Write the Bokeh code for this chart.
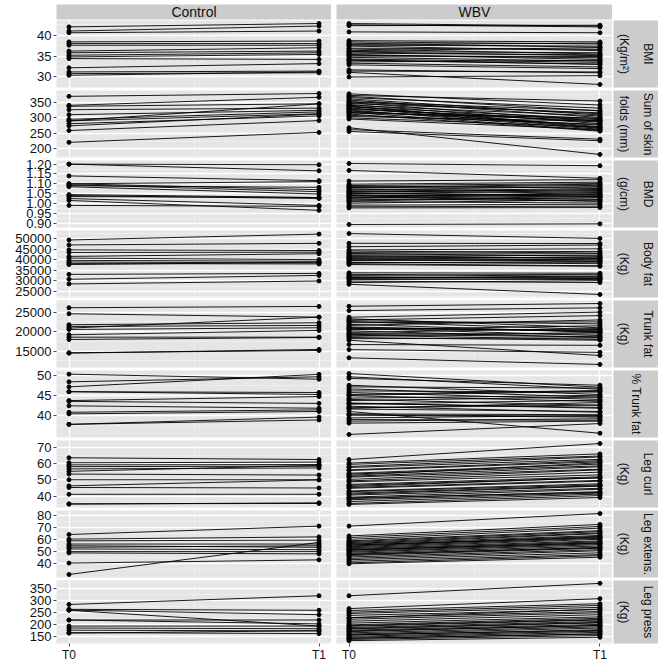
import math
from bokeh.plotting import figure
from bokeh.layouts import column, row
from bokeh.models import (ColumnDataSource, FixedTicker, NumeralTickFormatter,
                          Range1d, Label, Spacer)
from bokeh.embed import file_html
from bokeh.resources import INLINE

TIMES = ["T0", "T1"]
GROUPS = ["Control", "WBV"]

# ---------------- BMI (Kg/m2)
bmi_ctrl_t0 = [42.0, 41.0, 40.6, 38.4, 38.0, 37.6, 36.2, 35.8, 35.2, 34.8, 34.4, 32.2, 31.2, 30.8, 30.4]
bmi_ctrl_t1 = [42.8, 42.2, 41.0, 38.6, 38.0, 37.6, 37.0, 36.2, 35.8, 35.4, 34.2, 33.2, 31.4, 31.0, 31.2]
bmi_wbv_t0 = [42.8, 42.5, 42.3, 40.8, 38.7, 38.4, 38.1, 37.8, 37.4, 36.9, 36.7, 36.3, 36.0, 35.7, 35.4,
              35.0, 34.7, 34.3, 34.0, 33.6, 33.3, 32.9, 31.7, 31.4, 31.1, 30.0, 37.6, 36.1, 35.2, 34.1]
bmi_wbv_t1 = [42.2, 42.0, 42.4, 40.6, 38.4, 37.9, 37.1, 38.1, 36.3, 36.6, 35.5, 37.0, 35.1, 35.3, 34.2,
              34.9, 33.8, 33.5, 33.1, 34.0, 32.4, 32.0, 31.0, 31.2, 28.2, 30.3, 37.4, 35.8, 34.6, 33.0]
bmi_ticks = [30, 35, 40]

# ---------------- Sum of skin folds (mm)
skin_ctrl_t0 = [369, 340, 337, 326, 310, 295, 290, 290, 281, 274, 259, 221]
skin_ctrl_t1 = [378, 366, 345, 331, 324, 319, 313, 345, 306, 312, 291, 253]
skin_wbv_t0 = [377, 372, 369, 365, 361, 357, 352, 349, 346, 343, 340, 338, 335, 332, 330, 327,
               325, 322, 318, 315, 312, 308, 304, 300, 296, 268, 262, 256, 351, 337, 319]
skin_wbv_t1 = [341, 354, 322, 331, 309, 301, 323, 289, 316, 281, 306, 271, 297, 266, 286, 294,
               263, 276, 259, 299, 257, 279, 289, 270, 262, 182, 231, 226, 313, 268, 291]
skin_ticks = [200, 250, 300, 350]

# ---------------- BMD (g/cm)
bmd_ctrl_t0 = [1.20, 1.20, 1.14, 1.10, 1.10, 1.095, 1.09, 1.085, 1.045, 1.04, 1.035, 1.025, 1.015, 0.99]
bmd_ctrl_t1 = [1.197, 1.166, 1.116, 1.111, 1.07, 1.06, 1.082, 1.048, 1.03, 1.025, 1.03, 0.99, 0.965, 0.985]
bmd_wbv_t0 = [1.203, 1.168, 1.114, 1.098, 1.091, 1.086, 1.079, 1.074, 1.069, 1.064, 1.058, 1.054,
              1.049, 1.044, 1.039, 1.033, 1.028, 1.024, 1.018, 1.009, 1.001, 0.991, 0.983, 0.977,
              0.893, 1.081, 1.052, 1.031, 1.061, 1.041, 1.013]
bmd_wbv_t1 = [1.192, 1.128, 1.121, 1.108, 1.101, 1.079, 1.092, 1.061, 1.086, 1.052, 1.071, 1.041,
              1.066, 1.032, 1.048, 1.021, 1.046, 1.012, 1.036, 1.002, 1.019, 0.996, 0.986, 0.979,
              0.896, 1.098, 1.036, 1.056, 1.076, 1.011, 1.029]
bmd_ticks = [0.90, 0.95, 1.00, 1.05, 1.10, 1.15, 1.20]

# ---------------- Body fat (Kg)
bfat_ctrl_t0 = [49260, 46940, 44630, 43380, 41530, 40740, 39670, 38890, 38150, 37680, 33050, 30740, 28560]
bfat_ctrl_t1 = [52040, 47690, 44300, 43520, 42780, 40000, 39210, 38430, 37960, 38800, 33520, 32590, 29950]
bfat_wbv_t0 = [52300, 47700, 46100, 44600, 44100, 43400, 42900, 42600, 41900, 41600, 40900, 40600,
               39900, 39600, 38800, 38600, 38100, 37700, 33800, 33100, 32600, 31900, 31400, 31100,
               30600, 29900, 29200, 28400, 41300, 40200, 31700]
bfat_wbv_t1 = [50000, 47600, 46900, 45100, 43100, 43900, 41600, 42800, 40600, 42100, 39900, 41200,
               39100, 40300, 38100, 38800, 37100, 36900, 33600, 32100, 33100, 31100, 32300, 30600,
               31000, 29200, 30100, 23600, 40700, 39400, 31500]
bfat_ticks = [25000, 30000, 35000, 40000, 45000, 50000]

# ---------------- Trunk fat (Kg)
tfat_ctrl_t0 = [26130, 24590, 21770, 21330, 20900, 20560, 19200, 18590, 18000, 14490, 14600]
tfat_ctrl_t1 = [26460, 23720, 22280, 21590, 23720, 21000, 20310, 18590, 18500, 15440, 15180]
tfat_wbv_t0 = [26500, 25400, 23700, 23300, 23000, 22600, 22300, 21900, 21600, 21200, 20900, 20500,
               20200, 19800, 19500, 19100, 18800, 18500, 18200, 16700, 15400, 13300, 22800, 21000,
               19300, 20700, 17800]
tfat_wbv_t1 = [27200, 26100, 25000, 21000, 24100, 20500, 22500, 19800, 23000, 20000, 19000, 21500,
               18500, 20800, 19400, 18000, 19800, 17800, 18400, 16500, 14700, 11600, 22000, 20200,
               18700, 20400, 13900]
tfat_ticks = [15000, 20000, 25000]

# ---------------- % Trunk fat
ptf_ctrl_t0 = [50.25, 48.35, 47.1, 45.9, 45.9, 43.7, 43.5, 42.4, 40.8, 40.4, 37.8, 37.8]
ptf_ctrl_t1 = [49.0, 49.6, 50.2, 45.7, 45.2, 44.7, 43.0, 41.8, 41.4, 41.0, 39.6, 38.9]
ptf_wbv_t0 = [50.4, 49.6, 49.2, 47.5, 47.1, 46.6, 46.1, 45.7, 45.2, 44.9, 44.3, 44.0, 43.7, 43.1, 42.8,
              42.3, 41.9, 41.6, 41.0, 40.4, 40.1, 39.4, 39.0, 38.6, 38.1, 35.3, 45.0, 43.0, 41.8, 40.2]
ptf_wbv_t1 = [47.0, 46.5, 47.5, 45.2, 46.8, 44.5, 45.8, 44.0, 46.2, 43.5, 45.0, 42.5, 44.6, 41.8, 43.8,
              40.8, 42.6, 41.0, 35.6, 40.2, 39.6, 40.0, 38.8, 39.2, 38.6, 38.0, 46.0, 42.0, 43.2, 39.8]
ptf_ticks = [40, 45, 50]

# ---------------- Leg curl (Kg)
curl_ctrl_t0 = [63.7, 60.6, 59.3, 58.2, 56.8, 55.3, 53.6, 50.1, 46.3, 45.3, 41.1, 35.0, 35.2]
curl_ctrl_t1 = [62.6, 61.0, 59.5, 58.5, 57.4, 59.0, 53.0, 50.1, 50.0, 45.0, 41.1, 35.8, 35.4]
curl_wbv_t0 = [62.6, 60.4, 59.6, 58.3, 57.7, 56.2, 55.8, 54.1, 53.6, 52.2, 51.7, 50.3, 49.4, 48.8, 47.2,
               46.6, 45.3, 44.8, 43.1, 42.7, 41.2, 40.6, 39.3, 38.4, 37.7, 36.6, 35.4, 34.8, 45.9, 41.8,
               38.9, 52.8]
curl_wbv_t1 = [72.5, 66.1, 64.8, 64.2, 62.7, 61.9, 61.2, 59.8, 58.7, 58.1, 56.6, 56.2, 54.8, 53.1, 51.9,
               51.2, 49.7, 49.2, 47.6, 46.9, 46.1, 44.8, 44.2, 42.7, 41.9, 41.2, 40.3, 39.1, 51.4, 46.4,
               42.3, 60.6]
curl_ticks = [40, 50, 60, 70]

# ---------------- Leg extension (Kg)
ext_ctrl_t0 = [63.9, 60.0, 58.6, 55.9, 54.5, 53.2, 51.8, 49.6, 48.5, 40.0, 30.5]
ext_ctrl_t1 = [70.9, 61.9, 59.2, 55.9, 53.2, 54.5, 51.2, 49.6, 47.7, 42.7, 57.3]
ext_wbv_t0 = [70.9, 62.7, 61.3, 59.8, 58.6, 57.9, 57.1, 56.3, 55.8, 54.9, 54.2, 53.6, 52.8, 52.1, 51.4,
              50.6, 49.8, 49.1, 48.2, 47.5, 46.3, 45.1, 43.9, 42.8, 41.5, 40.2, 39.4, 55.1, 51.0, 47.0]
ext_wbv_t1 = [81.4, 72.3, 70.6, 69.2, 67.1, 66.3, 65.2, 64.6, 63.1, 62.4, 61.8, 60.7, 59.9, 58.6, 57.8,
              57.1, 56.2, 55.4, 54.3, 53.1, 52.4, 51.2, 50.3, 48.6, 47.1, 46.2, 44.9, 61.2, 56.7, 52.9]
ext_ticks = [40, 50, 60, 70, 80]

# ---------------- Leg press (Kg)
press_ctrl_t0 = [283, 263, 259, 260, 219, 219, 194, 186, 177, 167, 165]
press_ctrl_t1 = [319, 259, 194, 241, 219, 203, 194, 183, 174, 163, 175]
press_wbv_t0 = [319, 266, 258, 251, 246, 238, 229, 222, 214, 206, 199, 193, 188, 182, 177, 171, 166,
                161, 157, 152, 148, 144, 139, 134, 228, 196, 174, 158, 143, 184]
press_wbv_t1 = [370, 307, 286, 279, 271, 262, 254, 249, 241, 232, 226, 219, 213, 207, 201, 197, 191,
                186, 179, 173, 168, 162, 155, 148, 264, 221, 196, 176, 161, 209]
press_ticks = [150, 200, 250, 300, 350]

ROWS = [
    (["BMI", "(Kg/m²)"], (bmi_ctrl_t0, bmi_ctrl_t1), (bmi_wbv_t0, bmi_wbv_t1), bmi_ticks, "0"),
    (["Sum of skin", "folds (mm)"], (skin_ctrl_t0, skin_ctrl_t1), (skin_wbv_t0, skin_wbv_t1), skin_ticks, "0"),
    (["BMD", "(g/cm)"], (bmd_ctrl_t0, bmd_ctrl_t1), (bmd_wbv_t0, bmd_wbv_t1), bmd_ticks, "0.00"),
    (["Body fat", "(Kg)"], (bfat_ctrl_t0, bfat_ctrl_t1), (bfat_wbv_t0, bfat_wbv_t1), bfat_ticks, "0"),
    (["Trunk fat", "(Kg)"], (tfat_ctrl_t0, tfat_ctrl_t1), (tfat_wbv_t0, tfat_wbv_t1), tfat_ticks, "0"),
    (["% Trunk fat"], (ptf_ctrl_t0, ptf_ctrl_t1), (ptf_wbv_t0, ptf_wbv_t1), ptf_ticks, "0"),
    (["Leg curl", "(Kg)"], (curl_ctrl_t0, curl_ctrl_t1), (curl_wbv_t0, curl_wbv_t1), curl_ticks, "0"),
    (["Leg extens.", "(Kg)"], (ext_ctrl_t0, ext_ctrl_t1), (ext_wbv_t0, ext_wbv_t1), ext_ticks, "0"),
    (["Leg press", "(Kg)"], (press_ctrl_t0, press_ctrl_t1), (press_wbv_t0, press_wbv_t1), press_ticks, "0"),
]

FONT = "Liberation Sans"
PANEL_BG = "#E5E5E5"
STRIP_BG = "#CCCCCC"
PANEL_H = 67
GAP = 3
EXTRA = 6          # transparent room above/below each panel for overflowing tick labels
AXIS_H = 17
TOP_PAD = 4
TOP_STRIP_H = 15
LEFT_AXIS = 56
CTRL_W = 275
WBV_W = 276
STRIP_W = 45
TIME_POS = list(range(len(TIMES)))


def base_fig(width, height, **kw):
    opts = dict(width=width, height=height, output_backend="svg", toolbar_location=None,
                min_border_left=0, min_border_right=0, min_border_top=0, min_border_bottom=0,
                outline_line_color=None, border_fill_color=None)
    opts.update(kw)
    return figure(**opts)


def panel(t0, t1, yr, ticks, fmt, show_y, show_x, width, border_left):
    bottom = AXIS_H if show_x else EXTRA
    p = base_fig(width, PANEL_H + EXTRA + bottom,
                 x_range=Range1d(TIME_POS[0] - 0.05, TIME_POS[-1] + 0.05),
                 y_range=Range1d(*yr),
                 x_axis_location="below" if show_x else None,
                 y_axis_location="left" if show_y else None,
                 min_border_left=border_left, min_border_top=EXTRA, min_border_bottom=bottom,
                 background_fill_color=PANEL_BG)
    step = ticks[1] - ticks[0]
    minors = [ticks[0] - step / 2] + [t + step / 2 for t in ticks]
    p.xgrid.ticker = FixedTicker(ticks=TIME_POS, minor_ticks=[(TIME_POS[0] + TIME_POS[1]) / 2])
    p.ygrid.ticker = FixedTicker(ticks=ticks, minor_ticks=minors)
    p.grid.grid_line_color = "white"
    p.grid.grid_line_width = 1.3
    p.grid.minor_grid_line_color = "#F4F4F4"
    p.grid.minor_grid_line_width = 0.6
    if show_y:
        ax = p.yaxis[0]
        ax.ticker = FixedTicker(ticks=ticks)
        ax.formatter = NumeralTickFormatter(format=fmt)
    if show_x:
        ax = p.xaxis[0]
        ax.ticker = FixedTicker(ticks=TIME_POS)
        ax.major_label_overrides = {i: t for i, t in zip(TIME_POS, TIMES)}
    for ax in p.axis:
        ax.axis_line_color = None
        ax.major_tick_in = 0
        ax.major_tick_out = 3
        ax.major_tick_line_color = "#4D4D4D"
        ax.minor_tick_line_color = None
        ax.major_label_standoff = 2 if ax in p.yaxis else 1
        ax.major_label_text_font = FONT
        ax.major_label_text_font_size = "13px" if ax in p.yaxis else "12px"
        ax.major_label_text_color = "#111111"
    n = len(t0)
    src = ColumnDataSource(dict(x0=[TIME_POS[0]] * n, y0=t0, x1=[TIME_POS[1]] * n, y1=t1))
    p.segment("x0", "y0", "x1", "y1", source=src, line_color="black", line_width=0.9)
    pts = ColumnDataSource(dict(x=[TIME_POS[0]] * n + [TIME_POS[1]] * n, y=list(t0) + list(t1)))
    p.scatter("x", "y", source=pts, size=4, color="black")
    return p


def strip_top(text, width, border_left):
    p = base_fig(width, TOP_PAD + TOP_STRIP_H + 1, x_range=Range1d(0, 1), y_range=Range1d(0, 1),
                 x_axis_location=None, y_axis_location=None,
                 min_border_left=border_left, min_border_top=TOP_PAD, min_border_bottom=1,
                 background_fill_color=STRIP_BG)
    p.grid.visible = False
    p.add_layout(Label(x=0.5, y=0.5, text=text, text_align="center", text_baseline="middle",
                       text_font=FONT, text_font_size="14px", text_color="#111111"))
    return p


def strip_right(lines, show_x):
    bottom = AXIS_H if show_x else EXTRA
    p = base_fig(STRIP_W + 1, PANEL_H + EXTRA + bottom, x_range=Range1d(0, STRIP_W),
                 y_range=Range1d(0, 1),
                 x_axis_location=None, y_axis_location=None,
                 min_border_left=1, min_border_top=EXTRA, min_border_bottom=bottom,
                 background_fill_color=STRIP_BG)
    p.grid.visible = False
    xs = [STRIP_W / 2] if len(lines) == 1 else [STRIP_W * 0.76, STRIP_W * 0.24]
    for x, t in zip(xs, lines):
        p.add_layout(Label(x=x, y=0.5, text=t, angle=-math.pi / 2, text_align="center",
                           text_baseline="middle", text_font=FONT, text_font_size="12px",
                           text_color="#111111"))
    return p


rows = [row(strip_top(GROUPS[0], LEFT_AXIS + CTRL_W, LEFT_AXIS),
            strip_top(GROUPS[1], 5 + WBV_W, 5),
            Spacer(width=STRIP_W + 1, height=TOP_PAD + TOP_STRIP_H + 1))]
for i, (lab, ctrl, wbv, ticks, fmt) in enumerate(ROWS):
    allv = list(ctrl[0]) + list(ctrl[1]) + list(wbv[0]) + list(wbv[1])
    lo, hi = min(allv), max(allv)
    pad = (hi - lo) * 0.05
    yr = (lo - pad, hi + pad)
    last = i == len(ROWS) - 1
    pc = panel(ctrl[0], ctrl[1], yr, ticks, fmt, True, last, LEFT_AXIS + CTRL_W, LEFT_AXIS)
    pw = panel(wbv[0], wbv[1], yr, ticks, fmt, False, last, 5 + WBV_W, 5)
    r = row(pc, pw, strip_right(lab, last))
    # overlap the transparent label rooms so that the visible gap stays GAP px
    r.margin = (-EXTRA, 0, 0 if last else -(EXTRA - GAP), 0)
    rows.append(r)

layout = column(*rows)
open("out.html", "w").write(file_html(layout, INLINE))
